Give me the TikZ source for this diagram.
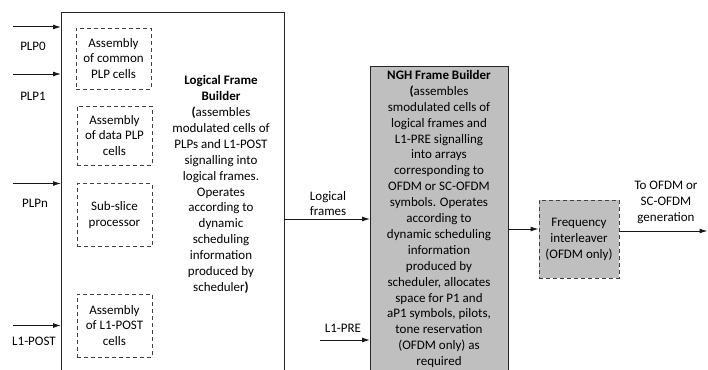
\documentclass[tikz,border=0pt]{standalone}
\usepackage{fontspec}
\setmainfont{Carlito}
\usetikzlibrary{arrows.meta}
\begin{document}
\begin{tikzpicture}[x=1pt,y=-1pt,
  txt/.style={font=\fontsize{13}{15.9}\selectfont, align=center, inner sep=0pt, text=black},
  solidbox/.style={draw=black!85, line width=1pt, inner sep=0pt},
  dbox/.style={draw=black!75, dash pattern=on 4pt off 3pt, line width=0.9pt, minimum width=75pt, inner sep=0pt, txt},
  graybox/.style={fill=black!25},
  arr/.style={-{Latex[length=8pt,width=5pt]}, line width=1pt, draw=black!90}
]
\useasboundingbox (0,0) rectangle (708,369);
\clip (0,0) rectangle (708,369);
\fill[white] (0,0) rectangle (708,369);

% Logical frame builder (open at the bottom)
\node[solidbox, minimum width=223pt, minimum height=372pt, anchor=north west] (lfb) at (61,12) {};
\node[txt] (lfbtxt) at (221,184.5) {\textbf{Logical Frame}\\\textbf{Builder}\\\textbf{(}assembles\\modulated cells of\\PLPs and L1-POST\\signalling into\\logical frames.\\Operates\\according to\\dynamic\\scheduling\\information\\produced by\\scheduler\textbf{)}};

% dashed sub-blocks
\node[dbox, minimum height=61pt] (b1) at (113.5,58.5) {Assembly\\of common\\PLP cells};
\node[dbox, minimum height=59pt] (b2) at (114.5,135.5) {Assembly\\of data PLP\\cells};
\node[dbox, minimum height=63pt] (b3) at (114.5,215) {Sub-slice\\processor};
\node[dbox, minimum height=63pt] (b4) at (114.5,325.5) {Assembly\\of L1-POST\\cells};

% inputs
\coordinate (p0) at (13,27);
\coordinate (p1) at (13,74);
\coordinate (pn) at (13,183.5);
\coordinate (pl) at (13,325.5);
\draw[arr] (p0) -- (p0 -| lfb.west);
\draw[arr] (p1) -- (p1 -| lfb.west);
\draw[arr] (pn) -- (pn -| lfb.west);
\draw[arr] (pl) -- (pl -| lfb.west);
\node[txt] (lp0) at (33,46) {PLP0};
\node[txt] (lp1) at (33,96) {PLP1};
\node[txt] (lpn) at (35,203) {PLPn};
\node[txt] (lpl) at (34,341) {L1-POST};

% NGH frame builder
\node[solidbox, graybox, minimum width=138pt, minimum height=320pt, anchor=north west] (ngh) at (370,66) {};
\node[txt] (nghtxt) at (439,219) {\textbf{NGH Frame Builder}\\\textbf{(}assembles\\smodulated cells of\\logical frames and\\L1-PRE signalling\\into arrays\\corresponding to\\OFDM or SC-OFDM\\symbols. Operates\\according to\\dynamic scheduling\\information\\produced by\\scheduler, allocates\\space for P1 and\\aP1 symbols, pilots,\\tone reservation\\(OFDM only) as\\required};

% logical frames
\coordinate (lfs) at (284,219);
\draw[arr] (lfs) -- (lfs -| ngh.west);
\node[txt] (lflab) at (328,203.5) {Logical\\frames};

% L1-PRE
\coordinate (l1p) at (320,340);
\draw[arr] (l1p) -- (l1p -| ngh.west);
\node[txt] (l1plab) at (343,328) {L1-PRE};

% frequency interleaver
\node[dbox, graybox, minimum width=80pt, minimum height=78pt] (fi) at (579,239) {Frequency\\interleaver\\(OFDM only)};
\coordinate (ngo) at (508,229);
\draw[arr] (ngo) -- (ngo -| fi.west);
\coordinate (out) at (707.5,231);
\draw[arr] (fi.east |- out) -- (out);
\node[txt] (outlab) at (666,202.5) {To OFDM or\\SC-OFDM\\generation};
\end{tikzpicture}
\end{document}
